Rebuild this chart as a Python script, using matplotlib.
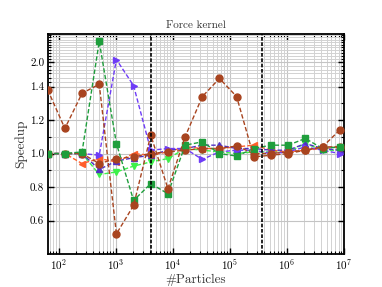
import numpy as np
import matplotlib
matplotlib.use("Agg")
import matplotlib.pyplot as plt
from matplotlib.ticker import FixedLocator, FixedFormatter, LogLocator, NullFormatter

plt.rcParams['font.family'] = ['cmr10', 'DejaVu Serif']
plt.rcParams['mathtext.fontset'] = 'cm'
plt.rcParams['axes.formatter.use_mathtext'] = True
plt.rcParams['axes.unicode_minus'] = False

# ---- data ----
n_particles = [64, 128, 256, 512, 1024, 2048, 4096, 8192, 16384, 32768, 65536,
               131072, 262144, 524288, 1048576, 2097152, 4194304, 8388608]

brown_wild = [1.38, 1.15, 1.36, 1.45, 0.52, 0.69, 1.11, 0.79, 1.10, 1.34, 1.58,
              1.34, 0.98, 0.99, 1.00, 1.02, 1.04, 1.14]
brown_flat = [1.00, 1.00, 1.00, 0.94, 0.97, 0.98, 1.00, 1.01, 1.02, 1.03, 1.03,
              1.045, 1.00, 1.00, 1.01, 1.02, 1.04, 1.04]
green_sq = [1.00, 1.00, 1.01, 2.73, 1.06, 0.72, 0.82, 0.76, 1.05, 1.07, 1.00,
            0.985, 1.03, 1.05, 1.05, 1.09, 1.03, 1.04]
purple_right = [1.00, 1.00, 1.00, 0.99, 2.09, 1.42, 1.02, 1.03, 1.03, 0.965, 1.01,
                1.02, 1.02, 1.00, 1.01, 1.04, 1.02, 1.00]
orange_left = [1.00, 1.00, 0.94, 0.97, 0.95, 1.00, 0.99, 1.01, 1.04, 1.03, 1.03,
               1.04, 1.05, 1.02, 1.01, 1.02, 1.03, 1.04]
lime_down = [1.00, 1.00, 1.00, 0.875, 0.89, 0.925, 0.95, 0.97, 1.03, 1.02, 1.01,
             1.00, 1.01, 1.01, 1.01, 1.06, 1.02, 1.02]
indigo_up = [1.00, 1.00, 1.00, 0.905, 0.955, 0.975, 0.99, 1.02, 1.03, 1.05, 1.05,
             1.03, 1.03, 1.02, 1.02, 1.06, 1.03, 1.02]

thresholds = [4096, 360000]

ytick_major = [0.6, 0.8, 1.0, 1.2, 1.4, 2.0]
ytick_labels = ['0.6', '0.8', '1.0', '1.2', '1.4', '2.0']

series = [
    (lime_down, '#3df04a', 'v', 5),
    (orange_left, '#ff5e2b', '<', 5),
    (indigo_up, '#5030c4', '^', 5),
    (purple_right, '#6e3cf7', '>', 5),
    (brown_flat, '#a8441f', 'o', 5),
    (green_sq, '#1f9e3c', 's', 4.5),
    (brown_wild, '#a8441f', 'o', 5),
]

fig = plt.figure(figsize=(3.82, 2.87), dpi=100)
ax = fig.add_axes([0.1249, 0.115, 0.7757, 0.7666])

ax.set_xscale('log')
ax.set_yscale('symlog', linthresh=1.4, linscale=1.356)

for vals, col, mk, ms in series:
    ax.plot(n_particles, vals, ls=(0, (3.2, 1.6)), lw=1.0, color=col,
            marker=mk, ms=ms, mec=col, mfc=col, zorder=3)

for t in thresholds:
    ax.axvline(t, color='black', lw=1.2, ls=(0, (2.2, 1.0)), zorder=4)

ax.set_xlim(64, 1e7)
ax.set_ylim(0.4, 3.05)

ax.xaxis.set_major_locator(LogLocator(base=10, numticks=20))
ax.xaxis.set_minor_locator(LogLocator(base=10, subs=np.arange(2, 10), numticks=200))
ax.xaxis.set_minor_formatter(NullFormatter())

minor_y = [v for v in np.round(np.arange(0.7, 3.051, 0.1), 2) if v not in ytick_major]
ax.yaxis.set_major_locator(FixedLocator(ytick_major))
ax.yaxis.set_major_formatter(FixedFormatter(ytick_labels))
ax.yaxis.set_minor_locator(FixedLocator(minor_y))
ax.yaxis.set_minor_formatter(NullFormatter())

ax.grid(True, which='major', color='#c4c4c4', lw=0.8)
ax.grid(True, which='minor', color='#d2d2d2', lw=0.7)
ax.set_axisbelow(True)

ax.tick_params(axis='both', which='both', direction='in', top=True, right=True,
               labelsize=8, pad=2.5)
ax.tick_params(axis='both', which='major', length=4, width=1.0)
ax.tick_params(axis='both', which='minor', length=2.5, width=0.8)

for s in ax.spines.values():
    s.set_linewidth(1.3)
    s.set_color('black')

ax.set_title('Force kernel', fontsize=8, pad=4, color='#333333')
ax.set_xlabel('#Particles', fontsize=9.5, labelpad=1, color='#333333')
ax.set_ylabel('Speedup', fontsize=9.5, labelpad=2, color='#333333')

fig.savefig('out.png', dpi=100)
